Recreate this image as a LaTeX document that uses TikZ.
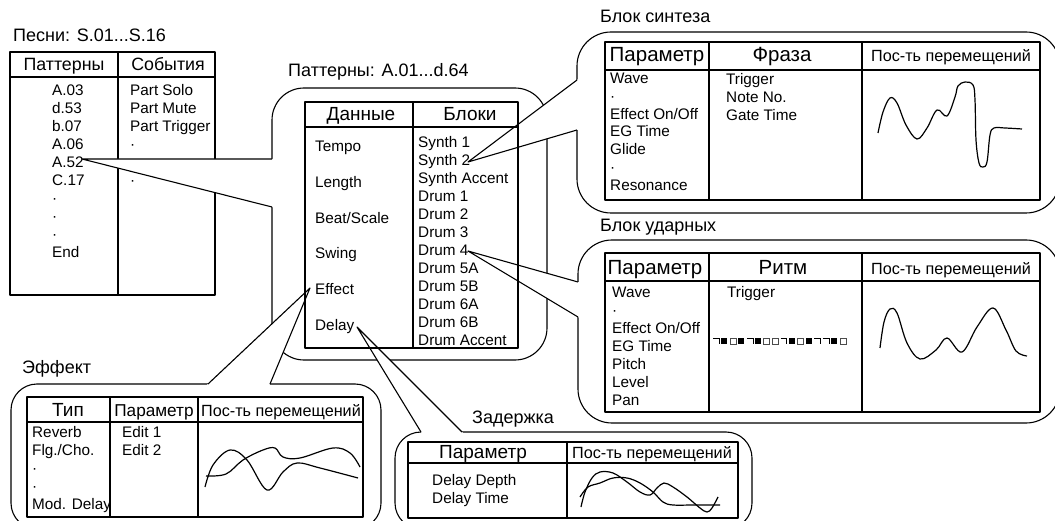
\documentclass[tikz,border=0pt]{standalone}
\usepackage{fontspec}
\setmainfont{Liberation Sans}
\usetikzlibrary{calc}
\tikzset{
  ln/.style={line width=1.1pt, line join=round},
  box/.style={ln, fill=white},
  wave/.style={line width=1.2pt, line join=round},
  bd/.style={font=\fontsize{15.3}{17}\selectfont, inner sep=0pt, anchor=base west},
  hd/.style={font=\fontsize{19}{21}\selectfont, inner sep=0pt, anchor=base},
  hb/.style={font=\fontsize{20.5}{22}\selectfont, inner sep=0pt, anchor=base},
  hm/.style={font=\fontsize{17.8}{20}\selectfont, inner sep=0pt, anchor=base},
  hp/.style={font=\fontsize{17.2}{19}\selectfont, inner sep=0pt, anchor=base},
  hs/.style={font=\fontsize{16.2}{18}\selectfont, inner sep=0pt, anchor=base},
  tt/.style={font=\fontsize{18}{20}\selectfont, inner sep=0pt, anchor=base west},
  wfill/.style={fill=white},
}
\begin{document}
\begin{tikzpicture}[x=1pt,y=-1pt]
\clip (0,0) rectangle (1055,521);
% ---------------- song table
\node[tt] (songT) at (13,42) {Песни: S.01...S.16};
\draw[ln] (10,52) rectangle (215,295) (10,77) -- (215,77) (118,52) -- (118,295);
\node[hm] (songH1) at (64,71) {Паттерны};
\node[hm] (songH2) at (168,71) {События};
\foreach \t [count=\i] in {A.03,d.53,b.07,A.06,A.52,C.17,·,·,·,End}
  \node[bd] (sP\i) at (52,{95.5+(\i-1)*18}) {\t};
\foreach \t [count=\i] in {Part Solo,Part Mute,Part Trigger,·}
  \node[bd] (sE\i) at (130,{95.5+(\i-1)*18}) {\t};
\node[bd] (sE6) at (130,185.5) {·};
% ---------------- central callout
\node[tt] (patT) at (288,77) {Паттерны: A.01...d.64};
\draw[box, rounded corners=32] (272,88) rectangle (547,360);
\coordinate (tA) at (82,159); \coordinate (bA1) at (272,159); \coordinate (bA2) at (272,207);
\fill[wfill] (tA) -- ($(tA)!1.04!(bA1)$) -- ($(tA)!1.04!(bA2)$) -- cycle;
% ---------------- synth & drum callouts
\node[tt] (synT) at (600,23) {Блок синтеза};
\draw[box, rounded corners=34] (577,32) rectangle (1060,213);
\node[tt] (drmT) at (600,232) {Блок ударных};
\draw[box, rounded corners=34] (578,240) rectangle (1060,423);
\coordinate (tS) at (468,162); \coordinate (bS1) at (577,80); \coordinate (bS2) at (577,130);
\coordinate (tD) at (468,251); \coordinate (bD1) at (578,282); \coordinate (bD2) at (578,317);
\fill[wfill] (tS) -- ($(tS)!1.05!(bS1)$) -- ($(tS)!1.05!(bS2)$) -- cycle;
\fill[wfill] (tD) -- ($(tD)!1.05!(bD1)$) -- ($(tD)!1.05!(bD2)$) -- cycle;
% ---------------- effect & delay callouts
\node[tt] (effT) at (22,373) {Эффект};
\draw[box, rounded corners=26] (11,384) rectangle (381,529);
\node[tt] (dlyT) at (472,423) {Задержка};
\draw[box, rounded corners=26] (395,432) rectangle (752,529);
\coordinate (tE) at (310,288); \coordinate (bE1) at (208,384); \coordinate (bE2) at (270,384);
\coordinate (tL) at (357,327); \coordinate (bL1) at (421,432); \coordinate (bL2) at (462,432);
\fill[wfill] (tE) -- ($(tE)!1.04!(bE1)$) -- ($(tE)!1.04!(bE2)$) -- cycle;
\fill[wfill] (tL) -- ($(tL)!1.04!(bL1)$) -- ($(tL)!1.04!(bL2)$) -- cycle;
% ---------------- central table
\draw[ln] (305,102) rectangle (518,348) (305,127) -- (518,127) (413,102) -- (413,348);
\node[hd] (patH1) at (361,121) {Данные};
\node[hd] (patH2) at (470,121) {Блоки};
\foreach \t [count=\i] in {Tempo,Length,Beat/Scale,Swing,Effect,Delay}
  \node[bd] (pD\i) at (315,{151.5+(\i-1)*35.8}) {\t};
\foreach \t [count=\i] in {Synth 1,Synth 2,Synth Accent,Drum 1,Drum 2,Drum 3,Drum 4,Drum 5A,Drum 5B,Drum 6A,Drum 6B,Drum Accent}
  \node[bd] (pB\i) at (418,{147.5+(\i-1)*18}) {\t};
% ---------------- synth table
\draw[ln] (605,42) rectangle (1040,200) (605,70) -- (1040,70) (709,42) -- (709,200) (862,42) -- (862,200);
\node[hb] (synH1) at (657,62) {Параметр};
\node[hb] (synH2) at (782,62) {Фраза};
\node[hs] (synH3) at (951,62) {Пос-ть перемещений};
\foreach \t [count=\i] in {Wave,·,Effect On/Off,EG Time,Glide,·,Resonance}
  \node[bd] (yP\i) at (610,{83.5+(\i-1)*17.8}) {\t};
\foreach \t [count=\i] in {Trigger,Note No.,Gate Time}
  \node[bd] (yF\i) at (726,{84.5+(\i-1)*17.8}) {\t};
\draw[wave] plot[smooth, tension=0.6] coordinates {(878,133) (883,112) (890,98) (897,103) (906,125) (917,139) (927,128) (937,110) (947,116) (955,97) (958,86) (965,82) (973,85) (975,100) (976,140) (979,163) (983,167) (987,162) (990,135) (994,128) (1005,128) (1022,129)};
% ---------------- drum table
\draw[ln] (605,253) rectangle (1040,412) (605,281) -- (1040,281) (709,253) -- (709,412) (862,253) -- (862,412);
\node[hb] (drmH1) at (655,275) {Параметр};
\node[hb] (drmH2) at (783,275) {Ритм};
\node[hs] (drmH3) at (951,275) {Пос-ть перемещений};
\foreach \t [count=\i] in {Wave,·,Effect On/Off,EG Time,Pitch,Level,Pan}
  \node[bd] (dP\i) at (612,{297.5+(\i-1)*18}) {\t};
\node[bd] (dR1) at (727,297.5) {Trigger};
\foreach \k in {2,4,6,10,12,15}
  \fill ({713+(\k-1)*8.45},338) rectangle ++(6,6);
\foreach \k in {3,7,8,11,16}
  \draw[line width=0.5pt, black!70] ({713+(\k-1)*8.45},338) rectangle ++(6,6);
\foreach \k in {1,5,9,13,14}
  \draw[line width=0.6pt] ({713+(\k-1)*8.45},338) -- ++(6,0) -- ++(0,6);
\draw[wave] plot[smooth, tension=0.6] coordinates {(880,348) (884,322) (890,309) (897,313) (907,343) (920,359) (936,350) (947,338) (962,352) (977,327) (993,308) (1006,330) (1016,351) (1027,356)};
% ---------------- effect table
\draw[ln] (27,397) rectangle (363,517) (27,422) -- (363,422) (110,397) -- (110,517) (198,397) -- (198,517);
\node[hd] (effH1) at (68,416) {Тип};
\node[hp] (effH2) at (154,416) {Параметр};
\node[hs] (effH3) at (281,416) {Пос-ть перемещений};
\foreach \t [count=\i] in {Reverb,Flg./Cho.,·,·,Mod. Delay}
  \node[bd] (eT\i) at (32,{437.5+(\i-1)*18}) {\t};
\foreach \t [count=\i] in {Edit 1,Edit 2}
  \node[bd] (eP\i) at (122,{437.5+(\i-1)*18}) {\t};
\draw[wave] plot[smooth, tension=0.6] coordinates {(205,487) (213,465) (230,450) (247,460) (267,490) (283,472) (297,463) (320,468) (358,478)};
\draw[wave] plot[smooth, tension=0.6] coordinates {(206,476) (226,474) (243,460) (263,450) (275,448) (283,457) (300,458) (333,448) (350,453) (360,467)};
% ---------------- delay table
\draw[ln] (408,442) rectangle (738,518) (408,463) -- (738,463) (567,442) -- (567,518);
\node[hd] (dlyH1) at (483,458) {Параметр};
\node[hs] (dlyH2) at (652,458) {Пос-ть перемещений};
\node[bd] (lP1) at (432,485.5) {Delay Depth};
\node[bd] (lP2) at (432,503.5) {Delay Time};
\draw[wave] plot[smooth, tension=0.6] coordinates {(581,507) (585,492) (592,478) (600,472) (613,473) (627,482) (640,492) (650,495) (657,488) (664,483) (673,487) (687,497) (700,508) (707,512) (712,508) (718,497)};
\draw[wave] plot[smooth, tension=0.6] coordinates {(580,497) (588,487) (600,483) (613,478) (627,478) (640,483) (653,492) (663,502) (673,505) (693,505) (720,505)};
% ---------------- callout pointer lines
\draw[ln] (bA1) -- (tA) -- (bA2);
\draw[ln] (bS1) -- (tS) -- (bS2);
\draw[ln] (bD1) -- (tD) -- (bD2);
\draw[ln] (bE1) -- (tE) -- (bE2);
\draw[ln] (bL1) -- (tL) -- (bL2);
\end{tikzpicture}
\end{document}
